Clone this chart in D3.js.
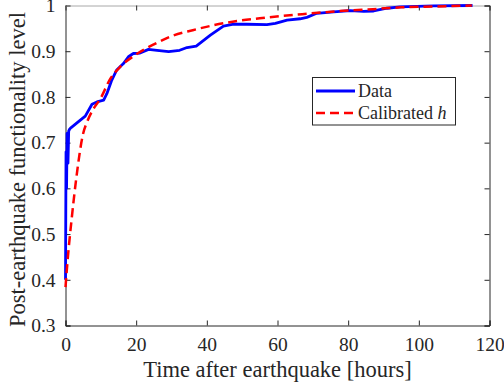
<!DOCTYPE html>
<html>
<head>
<meta charset="utf-8">
<script src="https://cdn.jsdelivr.net/npm/d3@7"></script>
<style>
  html, body { margin: 0; padding: 0; background: #fff; }
  svg { display: block; }
  text { font-family: "Liberation Serif", "Times New Roman", serif; fill: #262626; }
</style>
</head>
<body>
<svg id="chart" width="504" height="391"></svg>
<script>
// ---- Data ----
const dataT = [0, 0.15, 0.3, 0.45, 0.7, 0.9, 1.2, 1.6, 3.5, 5.6, 7.5, 8.9, 10.8, 11.7, 13, 14.5, 16.4, 17.8, 19.2, 21.1, 23.5, 25.9, 29.2, 32.3, 34.4, 37, 41, 44.7, 47.6, 51.3, 57, 59.4, 62.7, 66.4, 68.3, 71.1, 75.9, 80.6, 84.4, 87.2, 91, 94.7, 104.2, 115.2];
const dataV = [0.40, 0.68, 0.60, 0.72, 0.655, 0.725, 0.73, 0.733, 0.745, 0.758, 0.784, 0.789, 0.793, 0.807, 0.835, 0.859, 0.873, 0.888, 0.895, 0.896, 0.904, 0.902, 0.899, 0.902, 0.908, 0.911, 0.935, 0.955, 0.959, 0.959, 0.958, 0.961, 0.968, 0.971, 0.974, 0.983, 0.986, 0.989, 0.987, 0.988, 0.994, 0.997, 0.999, 1.0];

const calT = [0, 0.6, 1.7, 3.1, 5, 6.1, 8, 9.8, 12.7, 15.5, 20, 25, 30, 36, 42, 48.5, 55, 61, 67, 73, 80, 87, 95, 105, 115];
const calV = [0.384, 0.443, 0.53, 0.625, 0.72, 0.745, 0.775, 0.795, 0.84, 0.866, 0.893, 0.915, 0.933, 0.946, 0.957, 0.966, 0.972, 0.977, 0.981, 0.985, 0.989, 0.992, 0.996, 0.998, 1.0];

const xTicks = [0, 20, 40, 60, 80, 100, 120];
const yTicks = [0.3, 0.4, 0.5, 0.6, 0.7, 0.8, 0.9, 1];

const xLabel = "Time after earthquake [hours]";
const yLabel = "Post-earthquake functionality level";
const legendLabels = ["Data", "Calibrated "];

// ---- Layout ----
const L = 65.5, R = 489.5, T = 5.5, B = 325.5;
const svg = d3.select("#chart");
const x = d3.scaleLinear().domain([0, 120]).range([L, R]);
const y = d3.scaleLinear().domain([0.3, 1]).range([B, T]);
const axisColor = "#262626";

svg.append("rect").attr("x", L).attr("y", T).attr("width", R - L).attr("height", B - T).attr("fill", "#fff");

// axes
const xAxis = svg.append("g").attr("transform", `translate(0,${B})`)
  .call(d3.axisBottom(x).tickValues(xTicks).tickSize(-5).tickPadding(12).tickFormat(d3.format("d")));
const yAxis = svg.append("g").attr("transform", `translate(${L},0)`)
  .call(d3.axisLeft(y).tickValues(yTicks).tickSize(-5).tickPadding(10).tickFormat(d => d === 1 ? "1" : d3.format(".1f")(d)));
const xTop = svg.append("g").attr("transform", `translate(0,${T})`)
  .call(d3.axisTop(x).tickValues(xTicks).tickSize(-5).tickFormat(""));
const yRight = svg.append("g").attr("transform", `translate(${R},0)`)
  .call(d3.axisRight(y).tickValues(yTicks).tickSize(-5).tickFormat(""));

[xAxis, yAxis, xTop, yRight].forEach(g => {
  g.select(".domain").attr("stroke", axisColor).attr("stroke-width", 1);
  g.selectAll(".tick line").attr("stroke", axisColor).attr("stroke-width", 1);
  g.selectAll(".tick text").attr("font-size", 19.5).attr("fill", axisColor)
    .style("font-family", '"Liberation Serif", "Times New Roman", serif');
});
xTop.select(".domain").attr("stroke", "#a8a8a8");

// labels
svg.append("text").attr("x", (L + R) / 2).attr("y", 377).attr("text-anchor", "middle")
  .attr("font-size", 22.5).text(xLabel);
svg.append("text").attr("transform", `translate(25,${(T + B) / 2 + 4}) rotate(-90)`)
  .attr("text-anchor", "middle").attr("font-size", 22.5).text(yLabel);

// lines
const lineData = d3.line().x((d, i) => x(dataT[i])).y((d, i) => y(dataV[i])).curve(d3.curveLinear);
const lineCal = d3.line().x((d, i) => x(calT[i])).y((d, i) => y(calV[i])).curve(d3.curveMonotoneX);

svg.append("path").datum(dataV).attr("d", lineData).attr("fill", "none")
  .attr("stroke", "#0000ff").attr("stroke-width", 2.8).attr("stroke-linejoin", "round");
svg.append("path").datum(calV).attr("d", lineCal).attr("fill", "none")
  .attr("stroke", "#ff0000").attr("stroke-width", 2.5).attr("stroke-dasharray", "9,5");

// legend
const lg = svg.append("g");
lg.append("rect").attr("x", 312.5).attr("y", 77.5).attr("width", 143).attr("height", 47.5)
  .attr("fill", "#fff").attr("stroke", axisColor).attr("stroke-width", 1);
lg.append("line").attr("x1", 316).attr("x2", 355).attr("y1", 91).attr("y2", 91)
  .attr("stroke", "#0000ff").attr("stroke-width", 2.8);
lg.append("line").attr("x1", 316).attr("x2", 355).attr("y1", 113).attr("y2", 113)
  .attr("stroke", "#ff0000").attr("stroke-width", 2.5).attr("stroke-dasharray", "9,5");
lg.append("text").attr("x", 358).attr("y", 97.3).attr("font-size", 18).text(legendLabels[0]);
const t2 = lg.append("text").attr("x", 358).attr("y", 119.3).attr("font-size", 18);
t2.append("tspan").text(legendLabels[1]);
t2.append("tspan").attr("font-style", "italic").text("h");
</script>
</body>
</html>
